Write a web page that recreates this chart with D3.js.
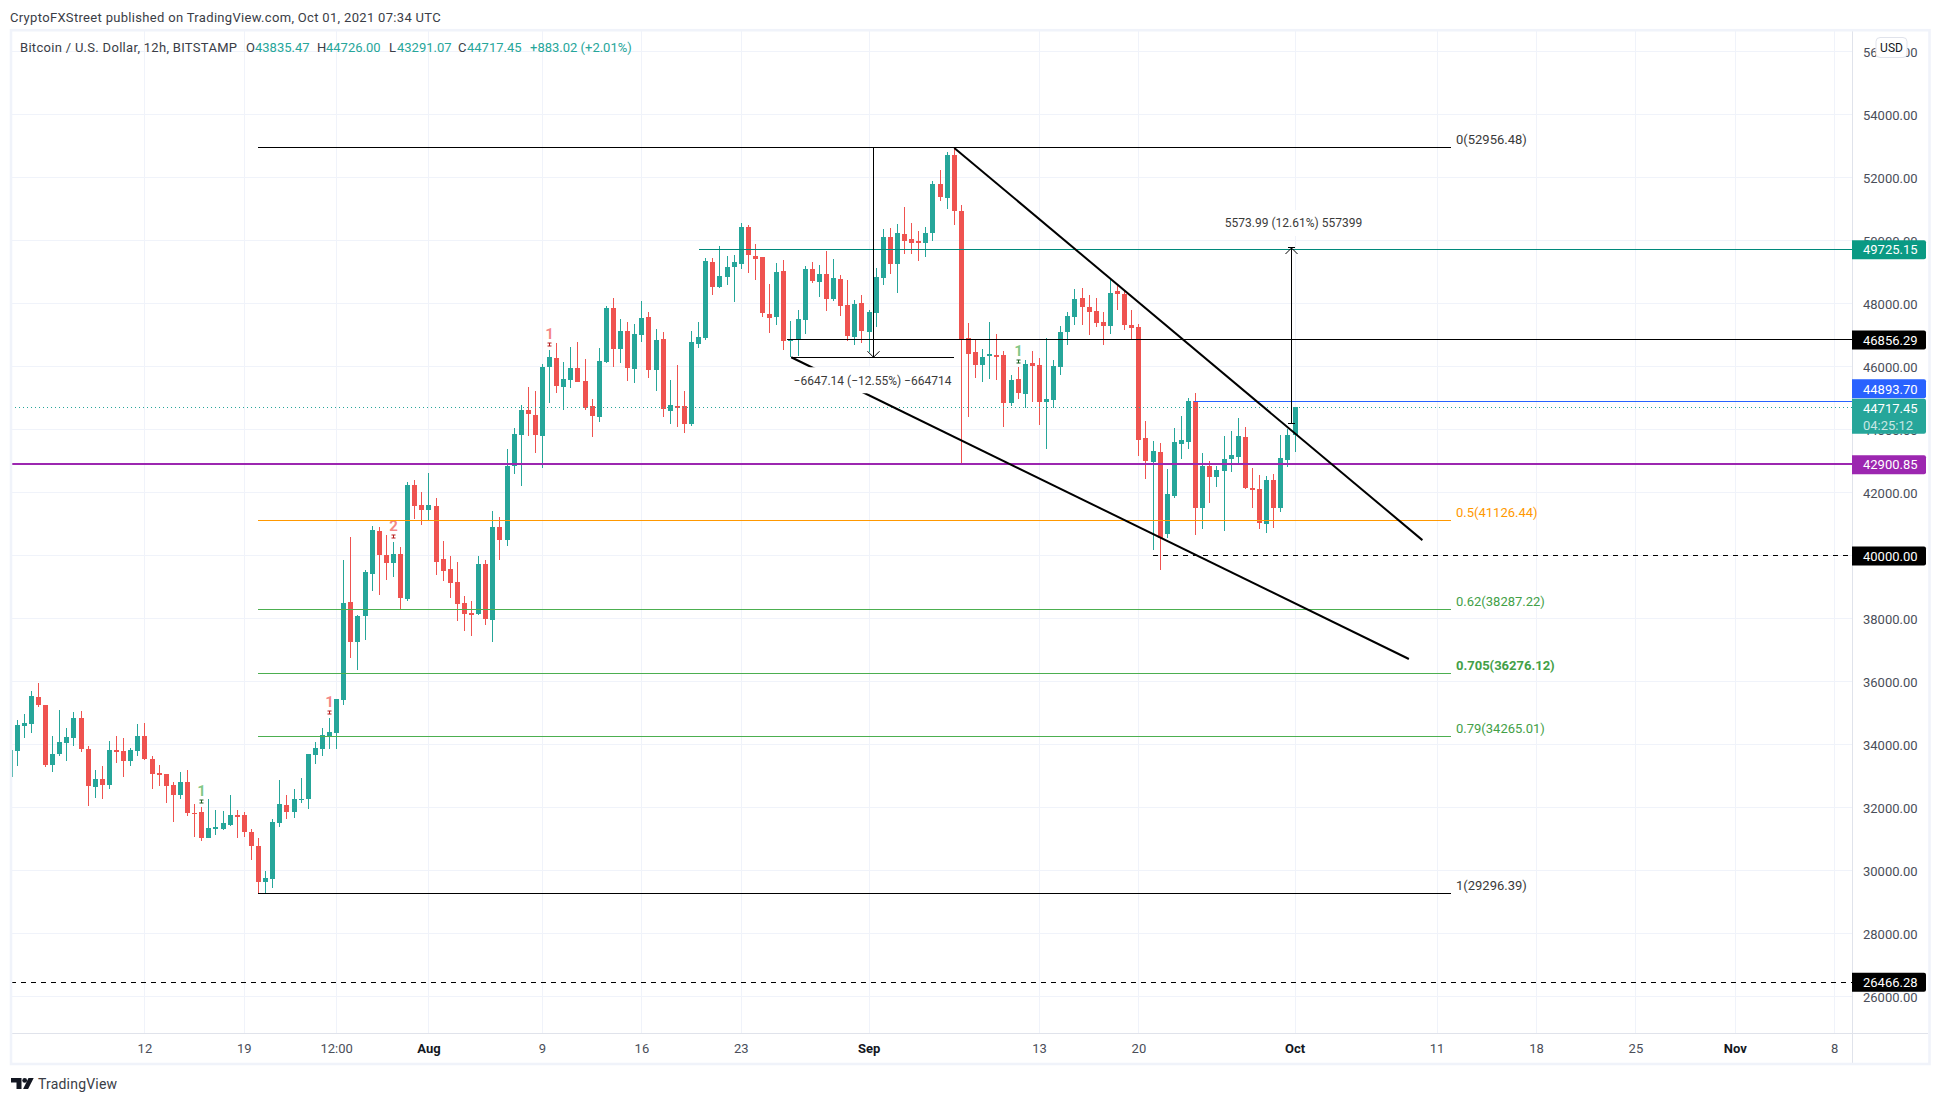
<!DOCTYPE html>
<html>
  <head>
    <meta charset="utf-8">
    <title>BTC/USD 12h</title>
    <script src="https://cdnjs.cloudflare.com/ajax/libs/d3/7.8.5/d3.min.js"></script>
    <style>
      html, body { margin: 0; padding: 0; background: #fff; }
      svg { display: block; font-family: Roboto, sans-serif; }
      svg text { font-size: 13px; }
      .domain { display: none; }
    </style>
  </head>
  <body>

    <svg class="chart" width="1941" height="1103"></svg>

    <script>

      // bars are counted from Jul 19 00:00, one bar = 12h
      var firstBar = -33;

      var opens = [
        32969,33795,34589,34652,35510,35256,33350,33699,34049,34208,
        34843,33858,32651,32905,32746,33826,33795,33477,33795,34271,
        33540,33096,33064,32746,32428,32810,31857,31888,31062,31348,
        31348,31475,31793,31793,31253,30808,29664,29760,31539,32111,
        31888,32270,32270,33667,33858,34271,34366,35425,38528,37257,
        38083,39418,40784,40021,39767,40053,38623,42245,41610,41451,
        41578,39894,39576,39163,38496,38179,38147,39735,37956,40911,
        40498,42849,43834,44628,44469,43802,45994,46280,45359,45581,
        45962,45549,44755,44406,46153,47868,46566,47138,45930,47011,
        47583,45899,46884,44597,44755,44755,44184,46725,46916,49330,
        48536,48854,49171,49267,50442,49521,49489,47678,47583,49044,
        46820,46852,47488,49108,48695,48949,48155,48790,47964,46948,
        48028,47106,47710,48822,50125,49267,50220,50061,49997,49934,
        50252,51808,51364,52730,50951,46915,46470,46057,46343,46375,
        46375,44850,45612,45136,46121,46057,44882,44945,45994,47105,
        47582,48186,47900,47773,47423,47296,48408,48313,47328,47264,
        43738,42976,43294,40688,41896,43548,43611,44914,41514,42849,
        42499,42690,43071,43135,43770,42150,42118,41006,42404,41514,
        43039,43835
      ];
      var highs = [
        33826,34779,34970,35701,35955,35256,34271,35097,34525,35034,
        35065,33953,33191,33318,34112,34271,34208,33890,34652,34684,
        33636,33350,33064,32810,33127,33191,32142,32047,32270,31952,
        31920,32428,31952,31888,31348,31062,30014,31666,32873,32397,
        32619,32937,33699,34080,34525,34843,35447,39862,40593,38115,
        39545,40943,40911,40657,40434,40275,42340,42404,42023,42626,
        41832,40466,39989,39799,38719,38560,39989,39862,41419,41229,
        43389,44056,44787,45359,45232,46089,46534,46756,46153,46629,
        46788,46248,44977,46598,47932,48186,47519,47424,47360,48091,
        47741,47202,47106,45581,46058,45232,47138,47424,49457,49457,
        49839,49521,49553,50569,50506,49902,49489,48631,49298,49394,
        47456,47805,49203,49330,49235,49680,49426,48917,48758,48123,
        48282,47805,49140,50379,50410,50538,51078,50569,50315,50442,
        51904,52253,52825,52956,51141,47391,46883,46565,47423,47042,
        46502,45739,45994,46216,46502,46279,46915,46216,47296,47741,
        48472,48503,48281,48186,47741,48789,48567,48440,47804,47360,
        44278,43643,43579,42753,44056,44437,45009,45168,43262,43008,
        42849,43802,43961,44374,44088,42785,42563,42531,42595,43834,
        44024,44726
      ];
      var lows = [
        32969,33318,34208,34366,35192,33286,33127,33636,33477,33953,
        33763,32079,32333,32270,32619,33413,32969,33318,33636,33509,
        32619,32714,32174,31571,32270,31761,31094,30967,31062,31158,
        31316,31444,31062,31094,30363,29290,29290,29474,31412,31666,
        31698,32174,31984,33382,33636,33858,33858,35256,36749,36368,
        37321,38878,38750,39227,39322,38306,38560,41165,40974,41133,
        39386,39195,38655,37924,37607,37448,38115,37797,37257,39862,
        40307,42595,42213,43802,43262,42785,44850,45168,44628,45327,
        45517,44628,43770,44247,46121,45994,46121,45549,45486,46788,
        45645,45232,44406,44184,44088,43898,44120,46598,46852,48282,
        48504,48600,48059,49108,48981,48758,47583,47075,47329,46534,
        46312,46344,47043,48663,48218,47774,48091,47615,46820,46693,
        46757,46471,47265,48600,48949,48345,49584,49584,49362,49489,
        49997,51268,51014,50506,42900,44405,45644,45517,45612,45580,
        44087,44754,44977,44691,44882,44151,43388,44691,45739,46692,
        47328,47328,47010,47264,46692,47042,47804,47169,46851,43166,
        42436,40180,39545,40561,41832,43071,43389,40657,40847,41673,
        42182,40784,42658,42912,42118,41514,40847,40720,40879,41387,
        42817,43291
      ];
      var closes = [
        33826,34621,34695,35542,35256,33350,33699,34080,34239,34843,
        33858,32683,32905,32746,33826,33763,33477,33826,34271,33540,
        33064,33032,32683,32428,32810,31857,31825,31062,31380,31412,
        31539,31793,31729,31253,30808,29664,29792,31571,32142,31888,
        32301,32301,33699,33890,34303,34398,35447,38496,37257,38083,
        39481,40815,40021,39767,40053,38655,42245,41578,41451,41610,
        39799,39513,39132,38465,38147,38115,39735,37988,40911,40498,
        42849,43865,44628,44501,43834,45994,46312,45390,45613,45962,
        45517,44691,44437,46185,47868,46566,47138,45962,47042,47551,
        45899,46852,44660,44787,44692,44184,46789,46948,49362,48536,
        48885,49171,49330,50442,49553,49426,47710,47551,49013,46820,
        46852,47519,49108,48727,48949,48155,48822,47932,46979,47996,
        47138,47742,48854,50125,49267,50252,49997,49934,49934,50252,
        51808,51395,52730,50951,46852,46407,46057,46311,46407,46311,
        44850,45580,45167,46089,46025,44882,44977,46025,47105,47614,
        48154,47900,47741,47391,47296,48344,48313,47328,47233,43674,
        43008,43325,40561,41959,43611,43675,44914,41514,42849,42499,
        42722,43071,43198,43802,42150,42086,41038,42404,41514,43103,
        43835,44717
      ];

      var priceTicks = [26000,28000,30000,32000,34000,36000,38000,40000,42000,44000,46000,48000,50000,52000,54000,56000];
      var timeTicks = [-14,0,13,26,42,56,70,88,112,126,148,168,182,196,210,224];
      var timeLabels = ["12","19","12:00","Aug","9","16","23","Sep","13","20","Oct","11","18","25","Nov","8"];
      var monthLabels = ["Aug","Sep","Oct","Nov"];

      var fibLevels = ["0","0.5","0.62","0.705","0.79","1"];
      var fibPrices = [52956.48,41126.44,38287.22,36276.12,34265.01,29296.39];
      var fibBars = [2,170.1];

      var tagPrices = [49725.15,46856.29,44893.70,42900.85,40000.00,26466.28];

      var wedgeUpper = [[100.07,52956],[166,40504]];
      var wedgeLower = [[77.1,46309],[164.1,36730]];

      var markerBars = [-6,12,21,43,109];
      var markerLabels = ["1","1","2","1","1"];
      var markerBull = [true,false,false,false,true];

      var width = 1941, height = 1103;
      var plotLeft = 11, plotRight = 1852, plotTop = 31, plotBottom = 1033;
      var up = "#26a69a", down = "#ef5350", gridColor = "#f0f3fa", textColor = "#4a4e59";

      var x = d3.scaleLinear().domain([-32.79,226.51]).range([plotLeft,plotRight]);
      var y = d3.scaleLinear().domain([56667,24857]).range([plotTop,plotBottom]);

      // pixel row for 1px horizontal lines
      function row(p) { return Math.floor(y(p)-0.1)+0.5; }

      var svg = d3.select("svg.chart");

      svg.append("defs").append("clipPath").attr("id","plot")
        .append("rect").attr("x",plotLeft).attr("y",plotTop)
        .attr("width",plotRight-plotLeft).attr("height",plotBottom-plotTop);

      // grid
      var grid = svg.append("g").attr("shape-rendering","crispEdges").attr("stroke",gridColor);
      grid.selectAll("line.h").data(priceTicks).enter().append("line")
        .attr("x1",plotLeft).attr("x2",plotRight)
        .attr("y1",function(d){ return row(d); })
        .attr("y2",function(d){ return row(d); });
      grid.selectAll("line.v").data(timeTicks).enter().append("line")
        .attr("y1",plotTop).attr("y2",plotBottom)
        .attr("x1",function(d){ return Math.round(x(d))+0.5; })
        .attr("x2",function(d){ return Math.round(x(d))+0.5; });

      // candles
      var bars = opens.map(function(o,i){
        return { bar: firstBar+i, open: o, high: highs[i], low: lows[i], close: closes[i] };
      });
      var plot = svg.append("g").attr("clip-path","url(#plot)");
      var candles = plot.append("g").attr("shape-rendering","crispEdges");
      candles.selectAll("rect.wick").data(bars).enter().append("rect")
        .attr("class","wick")
        .attr("x",function(d){ return Math.round(x(d.bar)); })
        .attr("width",1)
        .attr("y",function(d){ return Math.round(y(d.high)); })
        .attr("height",function(d){ return Math.max(1,Math.round(y(d.low))-Math.round(y(d.high))); })
        .attr("fill",function(d){ return d.close>=d.open ? up : down; });
      candles.selectAll("rect.body").data(bars).enter().append("rect")
        .attr("class","body")
        .attr("x",function(d){ return Math.round(x(d.bar))-2; })
        .attr("width",5)
        .attr("y",function(d){ return Math.round(y(Math.max(d.open,d.close))); })
        .attr("height",function(d){ return Math.max(1,Math.round(y(Math.min(d.open,d.close)))-Math.round(y(Math.max(d.open,d.close)))); })
        .attr("fill",function(d){ return d.close>=d.open ? up : down; });

      // sequence markers above the highs
      var markers = plot.append("g");
      markerBars.forEach(function(b,i){
        var px = Math.round(x(b))+0.5;
        var py = Math.round(y(highs[b-firstBar]));
        markers.append("text").attr("x",px).attr("y",py-16).attr("dy","0.36em")
          .attr("text-anchor","middle").style("font-size","15px").style("font-weight","700")
          .attr("fill",markerBull[i] ? "#4caf50" : "#ef5350").attr("fill-opacity",0.7)
          .text(markerLabels[i]);
        markers.append("path")
          .attr("d","M"+(px-2)+","+(py-7)+"h4M"+px+","+(py-7)+"v3M"+(px-2)+","+(py-4)+"h4")
          .attr("fill","none").attr("stroke",markerBull[i] ? "#1b5e20" : "#b71c1c");
      });

      // drawings sit on top of the candles
      var draw = plot.append("g").attr("fill","none");

      function level(price, from, color, w, dash) {
        var py = w==2 ? Math.floor(y(price)) : row(price);
        var l = draw.append("line").attr("x1",x(from)).attr("x2",plotRight)
          .attr("y1",py).attr("y2",py)
          .attr("stroke",color).attr("stroke-width",w).attr("shape-rendering","crispEdges");
        if (dash) l.attr("stroke-dasharray",dash);
      }

      level(44717.45,-32.79,up,1,"1 3");
      level(42900.85,-32.79,"#9c27b0",2);
      level(49725.15,64.15,"#00897b",1);
      level(46856.29,76.46,"#000",1);
      level(44893.70,133.8,"#2962ff",1);
      level(40000,128.1,"#000",1,"5 5");
      level(26466.28,-32.79,"#000",1,"5 5");

      // fibonacci levels
      var fibColors = { "0":"#000", "0.5":"#ff9800", "0.62":"#4caf50", "0.705":"#4caf50", "0.79":"#4caf50", "1":"#000" };
      fibLevels.forEach(function(lv,i){
        var py = row(fibPrices[i]);
        draw.append("line").attr("x1",x(fibBars[0])).attr("x2",x(fibBars[1]))
          .attr("y1",py).attr("y2",py).attr("stroke",fibColors[lv]).attr("shape-rendering","crispEdges");
        draw.append("text").attr("x",x(fibBars[1])+4.5).attr("y",py-8.5).attr("dy","0.36em")
          .attr("fill",lv=="0"||lv=="1" ? "#3a3a3a" : (lv=="0.5" ? "#ff9800" : "#43a047"))
          .style("font-weight",lv=="0.705" ? "700" : "400")
          .text(lv+"("+fibPrices[i].toFixed(2)+")");
      });

      // wedge
      [wedgeUpper,wedgeLower].forEach(function(w){
        draw.append("line")
          .attr("x1",x(w[0][0])).attr("y1",y(w[0][1]))
          .attr("x2",x(w[1][0])).attr("y2",y(w[1][1]))
          .attr("stroke","#000").attr("stroke-width",2);
      });

      // price range tools
      function measure(bar, from, to, b0, b1, label, dy, tx) {
        var g = draw.append("g").attr("stroke","#000").attr("shape-rendering","crispEdges");
        var px = Math.round(x(bar))+0.5, y0 = y(from), y1 = y(to);
        g.append("line").attr("x1",px).attr("x2",px).attr("y1",y0).attr("y2",y1);
        g.append("line").attr("x1",x(b0)).attr("x2",x(b1)).attr("y1",row(to)).attr("y2",row(to));
        g.append("line").attr("x1",x(b0)).attr("x2",x(b1)).attr("y1",row(from)).attr("y2",row(from));
        var dir = to<from ? -1 : 1;
        draw.append("path")
          .attr("d","M"+(px-6)+","+(y1+dir*6)+"L"+px+","+y1+"L"+(px+6)+","+(y1+dir*6))
          .attr("stroke","#000").attr("fill","none");
        var t = draw.append("text").attr("x",px+tx).attr("y",y1+dy).attr("dy","0.36em")
          .attr("text-anchor","middle").attr("fill","#3a3a3a").style("font-size","12px")
          .text(label);
        var box = t.node().getBBox();
        t.remove();
        draw.append("rect").attr("x",box.x-2).attr("y",y1+dy-13).attr("width",box.width+4).attr("height",26).attr("fill","#fff");
        draw.node().appendChild(t.node());
      }

      measure(88.6,52956.48,46309.34,77.1,100.03,"\u22126647.14 (\u221212.55%) \u2212664714",23,-1);
      measure(147.5,44205,49779,147.1,148.05,"5573.99 (12.61%) 557399",-25,2);

      // axes
      var yAxis = d3.axisRight(y).tickValues(priceTicks).tickSize(0).tickPadding(11)
        .tickFormat(d3.format(".2f"));
      var xAxis = d3.axisBottom(x).tickValues(timeTicks).tickSize(0).tickPadding(11)
        .tickFormat(function(d,i){ return timeLabels[i]; });

      svg.append("g").attr("class","y axis").attr("transform","translate("+plotRight+",0)").call(yAxis);
      svg.append("g").attr("class","x axis").attr("transform","translate(0,"+plotBottom+")").call(xAxis);
      svg.selectAll(".axis text").attr("fill",textColor).style("font-size","13px").style("font-family","Roboto, sans-serif");
      svg.selectAll(".x.axis text")
        .attr("fill",function(d,i){ return monthLabels.indexOf(timeLabels[i])>=0 ? "#131722" : textColor; })
        .style("font-weight",function(d,i){ return monthLabels.indexOf(timeLabels[i])>=0 ? "700" : "400"; });

      // axis edges and outer frame
      var edges = svg.append("g").attr("stroke","#e0e3eb").attr("shape-rendering","crispEdges");
      edges.append("line").attr("x1",plotRight+0.5).attr("x2",plotRight+0.5).attr("y1",plotTop).attr("y2",1063);
      edges.append("line").attr("x1",plotLeft).attr("x2",1928).attr("y1",plotBottom+0.5).attr("y2",plotBottom+0.5);
      svg.append("rect").attr("x",11).attr("y",30.2).attr("width",1918.5).attr("height",1033.8)
        .attr("fill","none").attr("stroke",gridColor).attr("stroke-width",2.6);

      // price tags
      var tagColors = ["#0a9a84","#000","#2962ff","#9c27b0","#000","#000"];
      function tag(cy, h, color) {
        svg.append("path")
          .attr("d","M1852,"+(cy-h/2)+"h72a2,2 0 0 1 2,2v"+(h-4)+"a2,2 0 0 1 -2,2h-72z")
          .attr("fill",color);
      }
      function tagText(cy, text, op) {
        svg.append("text").attr("x",1863).attr("y",cy).attr("dy","0.36em")
          .attr("fill","#fff").attr("fill-opacity",op||1).text(text);
      }
      tagPrices.forEach(function(p,i){
        // the blue tag gets pushed up by the last price tag
        var cy = y(p)-(i==2 ? 13 : 0);
        tag(cy,19,tagColors[i]);
        tagText(cy,p.toFixed(2));
      });
      var lastPrice = 44717.45;
      tag(y(lastPrice)+8.8,35,up);
      tagText(y(lastPrice)+1,lastPrice.toFixed(2));
      tagText(y(lastPrice)+17.5,"04:25:12",0.75);

      // currency button
      svg.append("rect").attr("x",1876).attr("y",37.5).attr("width",31).attr("height",20).attr("rx",4)
        .attr("fill","#fff").attr("stroke","#e0e3eb");
      svg.append("text").attr("x",1891.5).attr("y",47.5).attr("dy","0.36em").attr("text-anchor","middle")
        .attr("fill","#131722").style("font-size","12px").text("USD");

      // header text
      svg.append("text").attr("x",10).attr("y",17).attr("dy","0.36em").attr("fill","#3a3d46")
        .style("letter-spacing","0.32px").text("CryptoFXStreet published on TradingView.com, Oct 01, 2021 07:34 UTC");

      var legendY = 47.5;
      svg.append("text").attr("x",20).attr("y",legendY).attr("dy","0.36em").attr("fill","#3a3d46")
        .style("letter-spacing","0.3px").text("Bitcoin / U.S. Dollar, 12h, BITSTAMP");
      var legend = [
        [246,"O",255,"43835.47"],
        [317,"H",326,"44726.00"],
        [389,"L",397,"43291.07"],
        [458,"C",467,"44717.45"]
      ];
      legend.forEach(function(d){
        svg.append("text").attr("x",d[0]).attr("y",legendY).attr("dy","0.36em").attr("fill","#3a3d46").text(d[1]);
        svg.append("text").attr("x",d[2]).attr("y",legendY).attr("dy","0.36em").attr("fill",up).text(d[3]);
      });
      svg.append("text").attr("x",530).attr("y",legendY).attr("dy","0.36em").attr("fill",up)
        .text("+883.02 (+2.01%)");

      // footer logo
      var logo = svg.append("g").attr("fill","#131722");
      logo.append("path").attr("d","M11,1078h10.5v11h-5v-6.5h-5.5z");
      logo.append("circle").attr("cx",24.7).attr("cy",1080.4).attr("r",2.4);
      logo.append("path").attr("d","M28.5,1078h5.2l-5.6,11h-5z");
      svg.append("text").attr("x",38).attr("y",1084).attr("dy","0.36em").attr("fill","#3a3d46")
        .style("font-size","14px").style("letter-spacing","0.2px").text("TradingView");

    </script>
  </body>
</html>
